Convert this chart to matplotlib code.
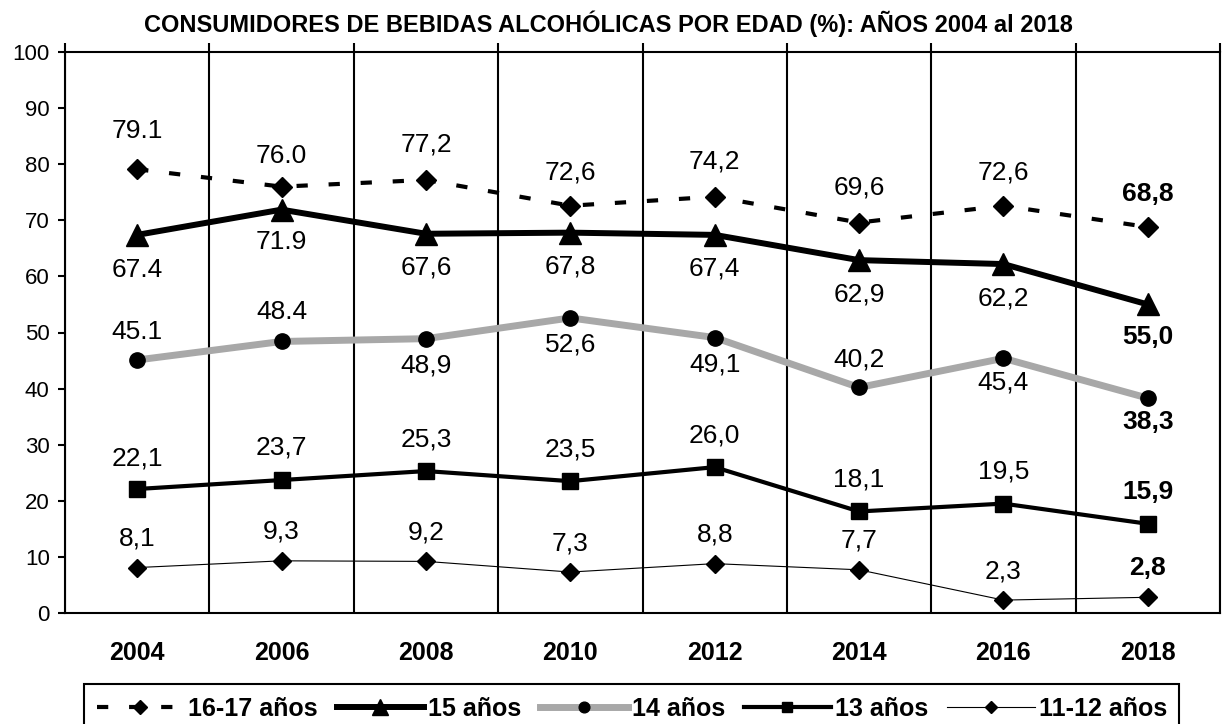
import matplotlib
matplotlib.use('Agg')
import matplotlib.pyplot as plt
from matplotlib import font_manager

plt.rcParams['font.family'] = ['Liberation Sans', 'DejaVu Sans']

# datos
anios = ['2004', '2006', '2008', '2010', '2012', '2014', '2016', '2018']
v_16_17 = [79.1, 76.0, 77.2, 72.6, 74.2, 69.6, 72.6, 68.8]
v_15 = [67.4, 71.9, 67.6, 67.8, 67.4, 62.9, 62.2, 55.0]
v_14 = [45.1, 48.4, 48.9, 52.6, 49.1, 40.2, 45.4, 38.3]
v_13 = [22.1, 23.7, 25.3, 23.5, 26.0, 18.1, 19.5, 15.9]
v_11_12 = [8.1, 9.3, 9.2, 7.3, 8.8, 7.7, 2.3, 2.8]

# etiquetas tal como aparecen (mezcla de punto y coma)
t_16_17 = ['79.1', '76.0', '77,2', '72,6', '74,2', '69,6', '72,6', '68,8']
t_15 = ['67.4', '71.9', '67,6', '67,8', '67,4', '62,9', '62,2', '55,0']
t_14 = ['45.1', '48.4', '48,9', '52,6', '49,1', '40,2', '45,4', '38,3']
t_13 = ['22,1', '23,7', '25,3', '23,5', '26,0', '18,1', '19,5', '15,9']
t_11_12 = ['8,1', '9,3', '9,2', '7,3', '8,8', '7,7', '2,3', '2,8']

# fuente angosta para etiquetas si existe
nombres = {f.name for f in font_manager.fontManager.ttflist}
fam_etq = ['Liberation Sans Narrow', 'Liberation Sans'] if 'Liberation Sans Narrow' in nombres else ['Liberation Sans']

fig = plt.figure(figsize=(12.22, 7.24), dpi=100)
ax = fig.add_axes([65 / 1222, 1 - 613 / 724, 1155 / 1222, 561 / 724])

x = list(range(len(anios)))

series = [
    # valores, textos, etiqueta, estilo, desplazamientos de etiqueta (px)
    (v_16_17, t_16_17, '16-17 años',
     dict(color='black', lw=3, ls=(0, (2.7, 5)), marker='D', ms=10),
     [38, 31, 35, 33, 35, 35, 33, 33]),
    (v_15, t_15, '15 años',
     dict(color='black', lw=4.3, marker='^', ms=16),
     [-35, -32, -34, -34, -34, -34, -34, -33]),
    (v_14, t_14, '14 años',
     dict(color='#a8a8a8', lw=5, marker='o', ms=11, mfc='black', mec='black'),
     [28, 29, -27, -27, -27, 28, -24, -24]),
    (v_13, t_13, '13 años',
     dict(color='black', lw=3, marker='s', ms=11),
     [31, 33, 32, 32, 32, 32, 32, 32]),
    (v_11_12, t_11_12, '11-12 años',
     dict(color='black', lw=0.8, marker='D', ms=9),
     [29, 29, 29, 29, 29, 29, 29, 29]),
]

for vals, textos, lab, estilo, offs in series:
    ax.plot(x, vals, label=lab, zorder=3, **estilo)
    for i, (v, t) in enumerate(zip(vals, textos)):
        ax.annotate(t, (i, v), xytext=(0, offs[i]), textcoords='offset pixels',
                    ha='center', va='center', fontsize=19, family=fam_etq,
                    fontweight='bold' if i == len(vals) - 1 else 'normal')

ax.set_xlim(-0.5, len(anios) - 0.5)
ax.set_ylim(0, 100)
ax.set_yticks(range(0, 101, 10))
ax.tick_params(axis='y', direction='out', length=5, width=1.5, pad=6, labelsize=16)

# lineas divisorias entre categorias, con marcas hacia arriba
ax.set_xticks([i - 0.5 for i in range(len(anios) + 1)])
ax.set_xticklabels([])
ax.xaxis.set_ticks_position('top')
ax.tick_params(axis='x', which='major', direction='out', length=6.5, width=1.5)
ax.grid(axis='x', color='black', lw=1.5, zorder=1)
ax.set_xticks(x, minor=True)
ax.set_xticklabels(anios, minor=True, fontsize=18, fontweight='bold')
ax.tick_params(axis='x', which='minor', bottom=True, top=False, labelbottom=True,
               labeltop=False, length=0, pad=20)

for s in ax.spines.values():
    s.set_linewidth(1.5)

fig.text(0.4975, 1 - 24 / 724, 'CONSUMIDORES DE BEBIDAS ALCOHÓLICAS POR EDAD (%): AÑOS 2004 al 2018',
         ha='center', va='center', fontsize=17, fontweight='bold')

leg = fig.legend(loc='upper center', bbox_to_anchor=(0.517, 1 - 684 / 724), ncol=5,
                 frameon=True, fancybox=False, edgecolor='black', framealpha=1,
                 prop={'size': 18, 'weight': 'bold'}, handlelength=3.5, markerscale=0.7,
                 handletextpad=0.16, columnspacing=0.75, borderpad=0.3,
                 borderaxespad=0)
leg._legend_box.pad = 9
leg.get_frame().set_linewidth(1.5)

fig.savefig('out.png', dpi=100)
